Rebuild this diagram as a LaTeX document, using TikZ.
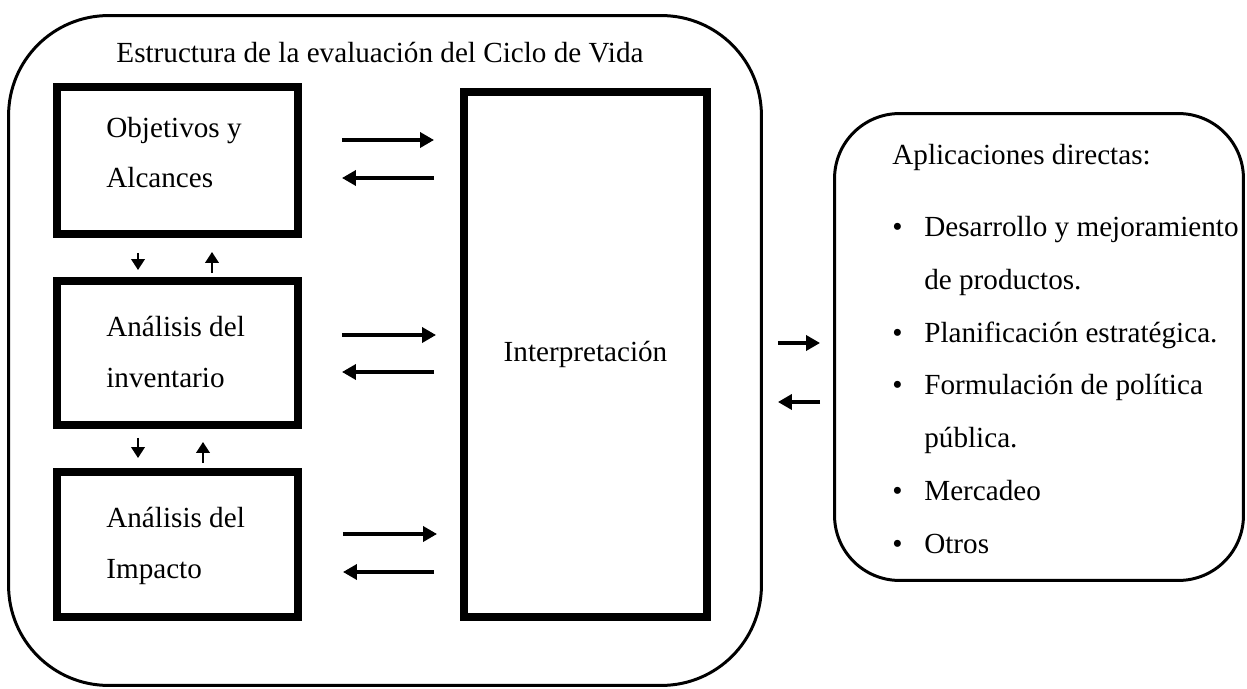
\documentclass[tikz,border=0pt]{standalone}
\usepackage{fontspec}
\setmainfont{Liberation Serif}
\usetikzlibrary{arrows.meta}
\newcommand\bul{\makebox[0.64cm][l]{•}}
\begin{document}
\begin{tikzpicture}[x=0.02cm,y=-0.02cm,
  txt/.style={font=\fontsize{16.6pt}{29pt}\selectfont, inner sep=0pt, align=left},
  sq/.style={draw, line width=4.55pt, inner sep=0pt, minimum width=4.82cm},
  rnd/.style={draw, line width=1.7pt, inner sep=0pt},
  harr/.style={line width=2.3pt, -{Triangle[length=0.28cm,width=0.3cm]}},
  varr/.style={line width=1.3pt, -{Triangle[length=0.22cm,width=0.27cm]}}]
\useasboundingbox (0,0) rectangle (1247,689);
% outer frame
\node[rnd, rounded corners=2cm, minimum width=15.06cm, minimum height=13.4cm] (lca) at (385,350.5) {};
\node[txt, anchor=base] (title) at (380,63) {Estructura de la evaluación del Ciclo de Vida};
% boxes
\node[sq, minimum height=2.94cm] (obj) at (177.5,160.5) {};
\node[sq, minimum height=2.88cm] (inv) at (177.5,353) {};
\node[sq, minimum height=2.90cm] (imp) at (177.5,544.5) {};
\node[txt, anchor=base west] (objt) at (106,188) {Objetivos y\\Alcances};
\node[txt, anchor=base west] (invt) at (106,387) {Análisis del\\inventario};
\node[txt, anchor=base west] (impt) at (106,578) {Análisis del\\Impacto};
\node[sq, minimum width=4.86cm, minimum height=10.5cm, font=\fontsize{16.6pt}{29pt}\selectfont] (int) at (585.5,354.5) {Interpretación};
% applications
\node[rnd, rounded corners=1.3cm, minimum width=8.18cm, minimum height=9.34cm] (app) at (1039,347) {};
\node[txt, anchor=base west, font=\fontsize{16.6pt}{30pt}\selectfont] (appt) at (892,553) {Aplicaciones directas:\\[0.39cm]
\bul Desarrollo y mejoramiento\\
\hspace*{0.64cm}de productos.\\
\bul Planificación estratégica.\\
\bul Formulación de política\\
\hspace*{0.64cm}pública.\\
\bul Mercadeo\\
\bul Otros};
% horizontal arrows
\draw[harr, shorten <=0.8cm, shorten >=0.52cm] ([yshift=0.41cm]obj.east) -- ([yshift=0.41cm]obj.east -| int.west);
\draw[harr, shorten <=0.52cm, shorten >=0.8cm] ([yshift=-0.35cm]obj.east -| int.west) -- ([yshift=-0.35cm]obj.east);
\draw[harr, shorten <=0.8cm, shorten >=0.48cm] ([yshift=0.36cm]inv.east) -- ([yshift=0.36cm]inv.east -| int.west);
\draw[harr, shorten <=0.52cm, shorten >=0.8cm] ([yshift=-0.38cm]inv.east -| int.west) -- ([yshift=-0.38cm]inv.east);
\draw[harr, shorten <=0.82cm, shorten >=0.46cm] ([yshift=0.21cm]imp.east) -- ([yshift=0.21cm]imp.east -| int.west);
\draw[harr, shorten <=0.52cm, shorten >=0.82cm] ([yshift=-0.55cm]imp.east -| int.west) -- ([yshift=-0.55cm]imp.east);
% vertical arrows
\draw[varr, shorten <=0.3cm, shorten >=0.14cm] ([xshift=-0.79cm]obj.south) -- ([xshift=-0.79cm]obj.south |- inv.north);
\draw[varr, shorten <=0.08cm, shorten >=0.28cm] ([xshift=0.69cm]obj.south |- inv.north) -- ([xshift=0.69cm]obj.south);
\draw[varr, shorten <=0.18cm, shorten >=0.2cm] ([xshift=-0.79cm]inv.south) -- ([xshift=-0.79cm]inv.south |- imp.north);
\draw[varr, shorten <=0.1cm, shorten >=0.26cm] ([xshift=0.51cm]inv.south |- imp.north) -- ([xshift=0.51cm]inv.south);
% arrows to applications
\draw[harr, shorten <=0.3cm, shorten >=0.26cm] ([yshift=0.15cm]lca.east) -- ([yshift=0.15cm]lca.east -| app.west);
\draw[harr, shorten <=0.26cm, shorten >=0.3cm] ([yshift=-1.03cm]lca.east -| app.west) -- ([yshift=-1.03cm]lca.east);
\end{tikzpicture}
\end{document}
